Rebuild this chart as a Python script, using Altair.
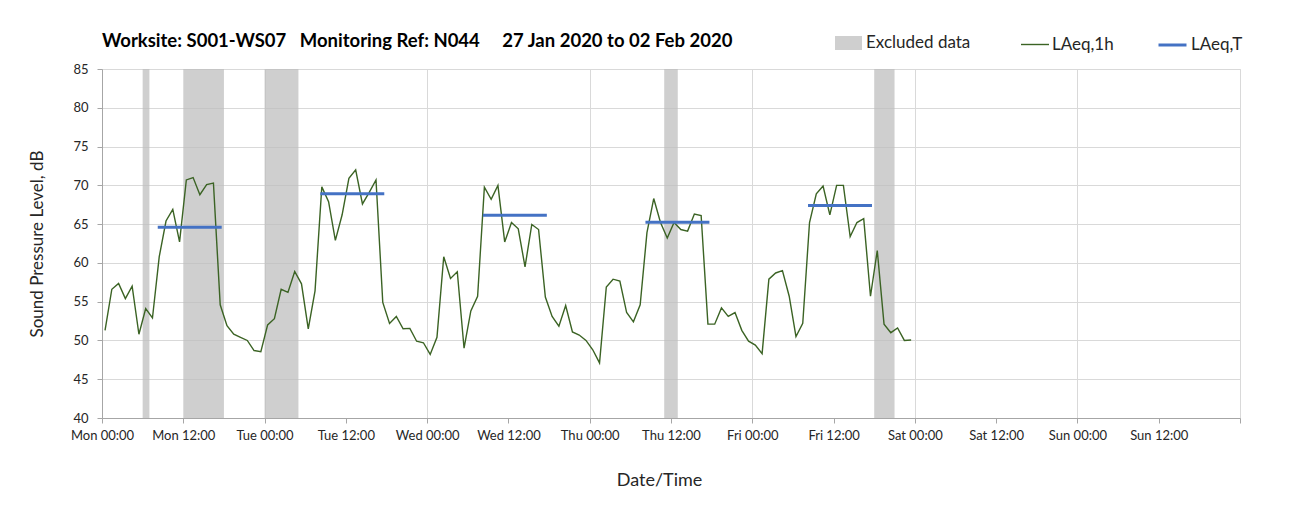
import json
import altair as alt
import pandas as pd

# ---- data ----
DAYS = ["Mon", "Tue", "Wed", "Thu", "Fri", "Sat", "Sun"]
# hourly LAeq,1h values, Mon 00:00 .. Fri 23:00
laeq_1h = [
    51.3, 56.6, 57.35, 55.4, 57.0, 50.8, 54.1, 52.9, 60.8, 65.4, 66.9, 62.7,
    70.7, 71.0, 68.8, 70.1, 70.3, 54.6, 51.9, 50.8, 50.4, 50.0, 48.7, 48.55,
    52.0, 52.8, 56.6, 56.2, 58.9, 57.3, 51.5, 56.4, 69.8, 67.9, 62.9, 66.2,
    70.9, 72.0, 67.6, 69.1, 70.7, 54.9, 52.2, 53.1, 51.5, 51.55, 49.9, 49.7,
    48.2, 50.4, 60.8, 58.0, 58.85, 49.0, 53.8, 55.7, 69.75, 68.2, 70.0, 62.7,
    65.2, 64.4, 59.5, 64.95, 64.3, 55.6, 53.1, 51.85, 54.5, 51.1, 50.7, 50.0,
    48.8, 47.1, 56.9, 57.9, 57.65, 53.6, 52.4, 54.6, 63.9, 68.3, 65.2, 63.2,
    65.2, 64.3, 64.1, 66.3, 66.1, 52.1, 52.1, 54.2, 53.1, 53.6, 51.3, 49.9,
    49.4, 48.3, 57.9, 58.7, 59.0, 55.7, 50.5, 52.2, 65.2, 68.9, 69.9, 66.2,
    70.0, 70.0, 63.4, 65.2, 65.7, 55.7, 61.6, 52.1, 51.0, 51.6, 50.0, 50.05,
]
point_offset_h = 0.45  # points sit a little after the hour mark

# excluded periods (hours from Mon 00:00)
excl_start = [6, 12, 24, 83, 114]
excl_end = [7, 18, 29, 85, 117]

# LAeq,T daytime periods (hour of first and last sample) and values
laeqT_first = [8, 32, 56, 80, 104]
laeqT_last = [17, 41, 65, 89, 113]
laeqT_value = [64.6, 68.9, 66.15, 65.25, 67.4]

title_text = ("Worksite: S001-WS07" + "\u00a0" * 3 + "Monitoring Ref: N044"
              + "\u00a0" * 5 + "27 Jan 2020 to 02 Feb 2020")

# ---- tables ----
line_df = pd.DataFrame({
    "hour": [i + point_offset_h for i in range(len(laeq_1h))],
    "level": laeq_1h,
    "series": "LAeq,1h",
})
excl_df = pd.DataFrame({"start": excl_start, "end": excl_end, "series": "Excluded data"})
t_df = pd.DataFrame({
    "start": [h + point_offset_h for h in laeqT_first],
    "end": [h + point_offset_h for h in laeqT_last],
    "level": laeqT_value,
    "series": "LAeq,T",
})

W, H = 1138, 349
FONT = "Lato"
TXT = "#262626"

label_expr = ("datum.value >= 168 ? '' : " + json.dumps(DAYS)
              + "[floor(datum.value/24)] + (datum.value % 24 == 0 ? ' 00:00' : ' 12:00')")

x_axis = alt.Axis(
    values=list(range(0, 169, 12)), labelExpr=label_expr, title="Date/Time",
    tickSize=5, labelPadding=6, labelFontSize=13, labelFont=FONT, labelColor=TXT,
    domainColor="#a6a6a6", tickColor="#a6a6a6", gridColor="#d9d9d9",
    gridOpacity={"condition": {"test": "datum.value % 24 === 0", "value": 1}, "value": 0},
    titleFont=FONT, titleFontSize=18, titleFontWeight="normal", titleColor=TXT,
    titleX=557, titleY=62, titleBaseline="middle", titleAlign="center",
    labelFlush=False, labelOverlap=False,
)
x_scale = alt.Scale(domain=[0, 168], nice=False, zero=False)

y_axis = alt.Axis(
    values=list(range(40, 86, 5)), title="Sound Pressure Level, dB",
    tickSize=5, labelPadding=9, labelFontSize=13, labelFont=FONT, labelColor=TXT,
    domainColor="#a6a6a6", tickColor="#a6a6a6", gridColor="#d9d9d9",
    titleFont=FONT, titleFontSize=17, titleFontWeight="normal", titleColor=TXT,
    titleX=-65, titleY=H / 2, titleAngle=270, titleBaseline="middle", titleAlign="center",
)
y_scale = alt.Scale(domain=[40, 85], nice=False, zero=False)

leg_common = dict(title=None, orient="none", padding=0, labelFont=FONT,
                  labelFontSize=17, labelColor=TXT)

bands = alt.Chart(excl_df).mark_rect(opacity=0.72).encode(
    x=alt.X("start:Q", scale=x_scale, axis=x_axis),
    x2="end:Q",
    y=alt.value(0),
    y2=alt.value(H),
    color=alt.Color("series:N", scale=alt.Scale(domain=["Excluded data"], range=["#bdbdbd"]),
                    legend=alt.Legend(legendX=733, legendY=-39.5,
                                      symbolType="M-1,-0.52H1V0.52H-1Z",
                                      symbolSize=729, symbolOpacity=0.72, symbolStrokeWidth=0,
                                      labelOffset=4, **leg_common)),
)

line = alt.Chart(line_df).mark_line(strokeWidth=1.4).encode(
    x=alt.X("hour:Q", scale=x_scale, axis=x_axis),
    y=alt.Y("level:Q", scale=y_scale, axis=y_axis),
    color=alt.Color("series:N", scale=alt.Scale(domain=["LAeq,1h"], range=["#3b6324"]),
                    legend=alt.Legend(legendX=918, legendY=-39.5, symbolType="stroke",
                                      symbolSize=784, symbolStrokeWidth=1.4,
                                      labelOffset=2, **leg_common)),
)

rule = alt.Chart(t_df).mark_rule(strokeWidth=3, strokeCap="square").encode(
    x=alt.X("start:Q", scale=x_scale, axis=x_axis),
    x2="end:Q",
    y=alt.Y("level:Q", scale=y_scale, axis=y_axis),
    color=alt.Color("series:N", scale=alt.Scale(domain=["LAeq,T"], range=["#4472c4"]),
                    legend=alt.Legend(legendX=1055, legendY=-39.5, symbolType="stroke",
                                      symbolSize=784, symbolStrokeWidth=3,
                                      labelOffset=3, **leg_common)),
)

chart = alt.layer(bands, line, rule).resolve_scale(color="independent").properties(
    width=W, height=H,
    autosize=alt.AutoSizeParams(type="none"),
    padding={"left": 94, "top": 61, "right": 58, "bottom": 85},
    title=alt.TitleParams(title_text, anchor="start", frame="group", font=FONT,
                          fontSize=18.5, fontWeight="bold", color="#000000",
                          baseline="middle", offset=0, dy=30),
).configure_view(stroke=None).configure(background="white")

chart.save("out.html", embed_options={"renderer": "svg", "actions": False})
